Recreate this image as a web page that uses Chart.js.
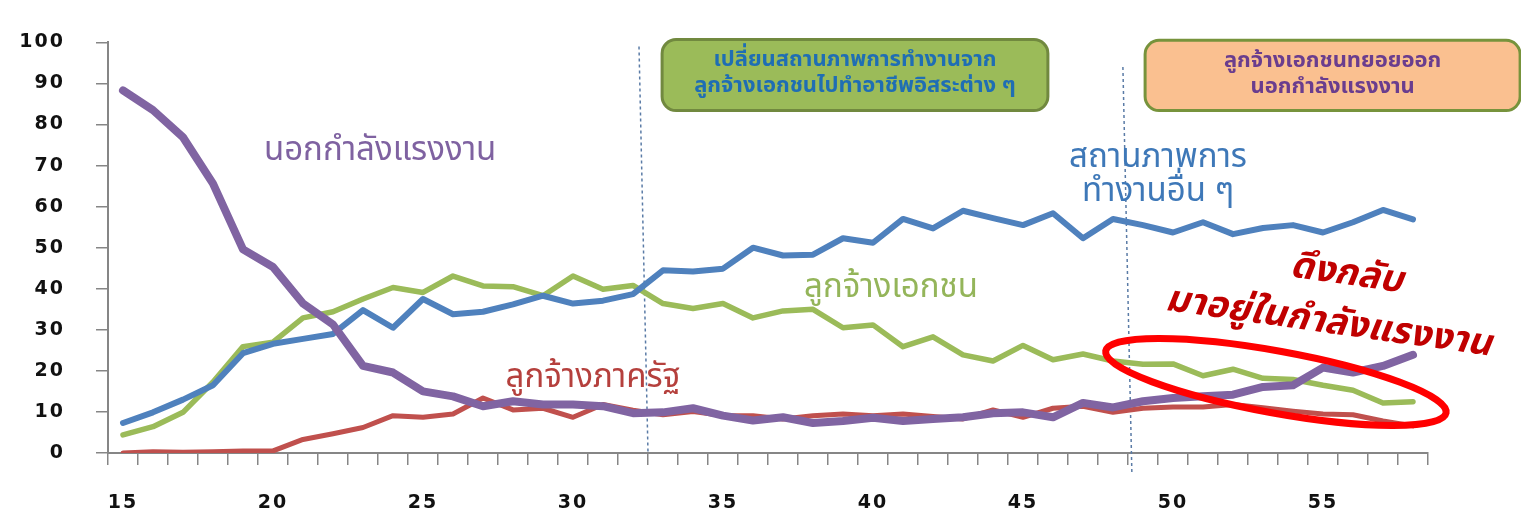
<!DOCTYPE html>
<html>
<head>
<meta charset="utf-8">
<script src="https://cdn.jsdelivr.net/npm/chart.js@4.4.0/dist/chart.umd.min.js"></script>
<style>
  html, body { margin: 0; padding: 0; background: #fff; }
  #wrap { width: 1521px; height: 516px; }
</style>
</head>
<body>
<div id="wrap"><canvas id="chart" width="1521" height="516"></canvas></div>
<script>
// age (years)
const ages = [15, 16, 17, 18, 19, 20, 21, 22, 23, 24, 25, 26, 27, 28, 29, 30, 31, 32, 33, 34, 35, 36,
              37, 38, 39, 40, 41, 42, 43, 44, 45, 46, 47, 48, 49, 50, 51, 52, 53, 54, 55, 56, 57, 58];

// share of each age group (%)
const outsideLabour = [88.3, 83.5, 76.9, 65.6, 49.6, 45.3, 36.4, 31.3, 21.2, 19.6, 15.0, 13.8, 11.4, 12.6, 11.8,
                       11.8, 11.4, 9.7, 9.9, 10.9, 9.1, 7.9, 8.7, 7.3, 7.8, 8.6, 7.8, 8.3, 8.7, 9.7,
                       9.9, 8.7, 12.2, 11.1, 12.6, 13.4, 13.8, 14.2, 16.1, 16.5, 20.8, 19.6, 21.2, 23.9];
const otherStatus = [7.3, 9.9, 13.0, 16.5, 24.3, 26.6, 27.8, 29.0, 34.8, 30.5, 37.5, 33.8, 34.4, 36.2, 38.3,
                     36.4, 37.1, 38.7, 44.5, 44.2, 44.9, 50.0, 48.1, 48.3, 52.3, 51.2, 57.0, 54.7, 59.0, 57.2,
                     55.5, 58.4, 52.3, 57.0, 55.5, 53.7, 56.2, 53.3, 54.8, 55.5, 53.7, 56.2, 59.2, 56.9];
const privateEmployee = [4.4, 6.4, 9.9, 17.3, 25.9, 27.0, 32.9, 34.4, 37.5, 40.3, 39.1, 43.1, 40.7, 40.5, 38.3,
                         43.1, 39.9, 40.8, 36.4, 35.2, 36.4, 32.9, 34.6, 35.0, 30.5, 31.2, 25.9, 28.3, 23.9, 22.4,
                         26.2, 22.7, 24.1, 22.4, 21.6, 21.7, 18.8, 20.4, 18.2, 17.9, 16.5, 15.3, 12.2, 12.5];
const governmentEmployee = [0.0, 0.3, 0.2, 0.3, 0.5, 0.5, 3.3, 4.7, 6.2, 9.1, 8.7, 9.5, 13.4, 10.5, 10.9,
                            8.7, 11.8, 10.4, 9.3, 10.1, 9.1, 9.1, 8.3, 9.1, 9.5, 9.1, 9.5, 8.9, 8.3, 10.5,
                            8.7, 10.9, 11.4, 9.9, 10.9, 11.2, 11.2, 11.8, 11.0, 10.2, 9.5, 9.3, 7.8, 6.6];

const yTicks = [0, 10, 20, 30, 40, 50, 60, 70, 80, 90, 100];

const THAI = "Waree, Tahoma, 'Noto Sans Thai', 'Noto Sans', 'DejaVu Sans', sans-serif";

// turn (age, value) into canvas pixels through the chart scales
function px(chart, age, value) {
    return {
        x: chart.scales.x.getPixelForValue(age - ages[0]),
        y: chart.scales.y.getPixelForValue(value)
    };
}

const dividers = [
    { top: [32.2, 99], bottom: [32.5, 0] },
    { top: [48.33, 94], bottom: [48.63, -5.2] }
];

const boxes = [
    { left: 32.97, right: 45.83, top: 100.7, bottom: 83.4, fill: '#9BBB59', edge: '#71893F',
      color: '#1F6EB4', lines: ['เปลี่ยนสถานภาพการทำงานจาก', 'ลูกจ้างเอกชนไปทำอาชีพอิสระต่าง ๆ'] },
    { left: 49.07, right: 61.57, top: 100.5, bottom: 83.4, fill: '#FAC090', edge: '#77933C',
      color: '#6A3D8E', lines: ['ลูกจ้างเอกชนทยอยออก', 'นอกกำลังแรงงาน'] }
];

const labels = [
    { text: 'นอกกำลังแรงงาน', age: 23.57, value: 73.1, color: '#7F62A1', font: '33px ' + THAI },
    { text: 'ลูกจ้างภาครัฐ', age: 30.67, value: 17.6, color: '#B5403D', font: '33px ' + THAI },
    { text: 'ลูกจ้างเอกชน', age: 40.6, value: 39.6, color: '#94B55A', font: '33px ' + THAI },
    { text: 'สถานภาพการ', age: 49.5, value: 71.4, color: '#3E78B8', font: '33px ' + THAI },
    { text: 'ทำงานอื่น ๆ', age: 49.5, value: 63.0, color: '#3E78B8', font: '33px ' + THAI },
    { text: 'ดึงกลับ', age: 55.77, value: 42.9, color: '#C00000', font: 'italic bold 37px ' + THAI, rotate: 0.14 },
    { text: 'มาอยู่ในกำลังแรงงาน', age: 55.17, value: 31.1, color: '#C00000', font: 'italic bold 37px ' + THAI, rotate: 0.14 }
];

const tickSpacing = {
    id: 'tickSpacing',
    beforeDraw(chart) { chart.ctx.letterSpacing = '2px'; },
    beforeDatasetsDraw(chart) { chart.ctx.letterSpacing = '0px'; }
};

const notes = {
    id: 'notes',
    beforeDatasetsDraw(chart) {
        const ctx = chart.ctx;
        ctx.save();
        ctx.strokeStyle = '#5A7BA6';
        ctx.lineWidth = 1.5;
        ctx.setLineDash([3, 3]);
        dividers.forEach(d => {
            const a = px(chart, d.top[0], d.top[1]);
            const b = px(chart, d.bottom[0], d.bottom[1]);
            ctx.beginPath();
            ctx.moveTo(a.x, a.y);
            ctx.lineTo(b.x, b.y);
            ctx.stroke();
        });
        ctx.restore();
    },
    afterDatasetsDraw(chart) {
        const ctx = chart.ctx;
        ctx.save();

        // red ellipse round the late-age part
        const c = px(chart, 53.43, 17.3);
        ctx.strokeStyle = '#FF0000';
        ctx.lineWidth = 7;
        ctx.beginPath();
        ctx.ellipse(c.x, c.y, 173, 31, 0.18, 0, Math.PI * 2);
        ctx.stroke();

        // boxes
        boxes.forEach(b => {
            const tl = px(chart, b.left, b.top);
            const br = px(chart, b.right, b.bottom);
            ctx.beginPath();
            ctx.roundRect(tl.x, tl.y, br.x - tl.x, br.y - tl.y, 14);
            ctx.fillStyle = b.fill;
            ctx.fill();
            ctx.lineWidth = 3;
            ctx.strokeStyle = b.edge;
            ctx.stroke();
            ctx.fillStyle = b.color;
            ctx.font = 'bold 22px ' + THAI;
            ctx.textAlign = 'center';
            ctx.textBaseline = 'middle';
            const cx = (tl.x + br.x) / 2;
            const cy = (tl.y + br.y) / 2;
            ctx.fillText(b.lines[0], cx, cy - 13);
            ctx.fillText(b.lines[1], cx, cy + 13);
        });

        // series labels
        labels.forEach(l => {
            const p = px(chart, l.age, l.value);
            ctx.save();
            ctx.translate(p.x, p.y);
            if (l.rotate) ctx.rotate(l.rotate);
            ctx.font = l.font;
            ctx.fillStyle = l.color;
            ctx.textAlign = 'center';
            ctx.textBaseline = 'middle';
            ctx.fillText(l.text, 0, 0);
            ctx.restore();
        });

        ctx.restore();
    }
};

function lineSet(label, data, color, width) {
    return {
        label: label,
        data: data,
        borderColor: color,
        backgroundColor: color,
        borderWidth: width,
        pointRadius: 0,
        tension: 0,
        borderJoinStyle: 'round',
        borderCapStyle: 'round',
        fill: false
    };
}

const axisFont = { family: "'DejaVu Sans', sans-serif", size: 19, weight: 'bold' };

new Chart(document.getElementById('chart'), {
    type: 'line',
    data: {
        labels: ages,
        datasets: [
            lineSet('นอกกำลังแรงงาน', outsideLabour, '#8064A2', 8),
            lineSet('สถานภาพการทำงานอื่น ๆ', otherStatus, '#4F81BD', 6),
            lineSet('ลูกจ้างเอกชน', privateEmployee, '#9BBB59', 5.5),
            lineSet('ลูกจ้างภาครัฐ', governmentEmployee, '#C0504D', 5)
        ]
    },
    options: {
        responsive: false,
        animation: false,
        devicePixelRatio: 1,
        layout: { padding: { top: 26, right: 93, bottom: 0, left: 0 } },
        plugins: {
            legend: { display: false },
            tooltip: { enabled: false }
        },
        scales: {
            x: {
                type: 'category',
                offset: true,
                grid: { offset: true, drawOnChartArea: false, drawTicks: true, tickLength: 12, color: '#868686', lineWidth: 1.5 },
                border: { color: '#868686', width: 2 },
                ticks: {
                    autoSkip: false,
                    maxRotation: 0,
                    padding: 27,
                    color: '#111',
                    font: axisFont,
                    callback: function (value, index) { return ages[index] % 5 === 0 ? String(ages[index]) : ''; }
                },
                afterFit: function (scale) { scale.height = 63; }
            },
            y: {
                min: 0,
                max: 100,
                afterBuildTicks: function (scale) { scale.ticks = yTicks.map(v => ({ value: v })); },
                grid: { drawOnChartArea: false, drawTicks: true, tickLength: 12, color: '#868686', lineWidth: 1.5 },
                border: { color: '#868686', width: 2 },
                ticks: { padding: 31, color: '#111', font: axisFont },
                afterFit: function (scale) { scale.width = 108; }
            }
        }
    },
    plugins: [tickSpacing, notes]
});
</script>
</body>
</html>
